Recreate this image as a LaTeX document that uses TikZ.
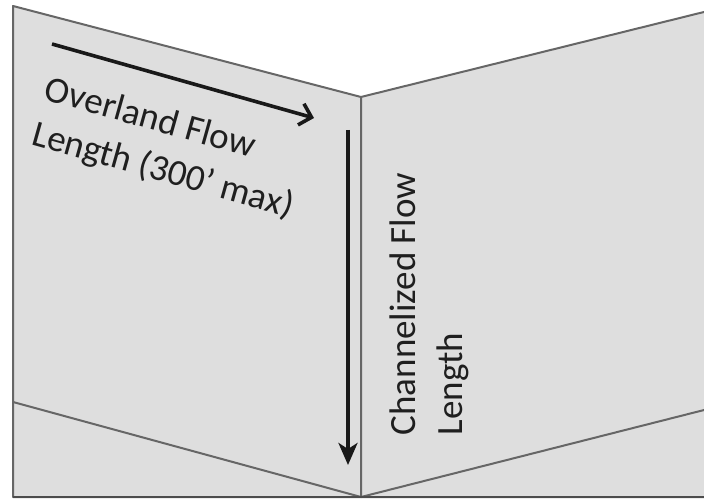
\documentclass[tikz,border=0pt]{standalone}
\usepackage{fontspec}
\setmainfont{Carlito}
\usetikzlibrary{arrows.meta}
\begin{document}
\begin{tikzpicture}[x=1pt,y=-1pt,
  panel/.style={fill=black!13, draw=black!60, line width=2pt, line join=round},
  edge/.style={draw=black!60, line width=2pt},
  flowarrow/.style={draw=black!90, line width=3.6pt},
  label/.style={text=black!88, font=\fontsize{37}{47}\selectfont, align=left, inner sep=0pt}]
  \clip (0,0) rectangle (704,502);
  % corner points of the folded sheet
  \coordinate (tl) at (13,6);
  \coordinate (foldtop) at (361,97);
  \coordinate (foldbot) at (361,497);
  \coordinate (bl) at (13,497);
  \coordinate (tr) at (712,10);
  \coordinate (br) at (712,497);
  % the two panels
  \path[panel] (tl) -- (foldtop) -- (foldbot) -- (bl) -- cycle;
  \path[panel] (foldtop) -- (tr) -- (br) -- (foldbot) -- cycle;
  % sloping lines across the lower part
  \coordinate (ll) at (13,402);
  \coordinate (rl) at (712,408);
  \draw[edge] (ll) -- (foldbot) -- (rl);
  \draw[edge, line width=2.6pt, draw=black!70] (bl) -- (br);
  % flow arrows
  \coordinate (oa) at (52,44);
  \coordinate (ob) at (314,118);
  \draw[flowarrow, -{Straight Barb[length=11pt,width=22pt,line width=3.6pt]}] (oa) -- (ob);
  \coordinate (ca) at (348,130);
  \coordinate (cb) at (348,465);
  \draw[flowarrow, -{Stealth[length=22pt,width=19pt,inset=6pt]}] (ca) -- (cb);
  % labels
  \node[label, rotate=-15.7] (overland) at (169,149) {Overland Flow\\Length (300’ max)};
  \node[label, rotate=90] (channel) at (429,304) {Channelized Flow\\Length};
\end{tikzpicture}
\end{document}
